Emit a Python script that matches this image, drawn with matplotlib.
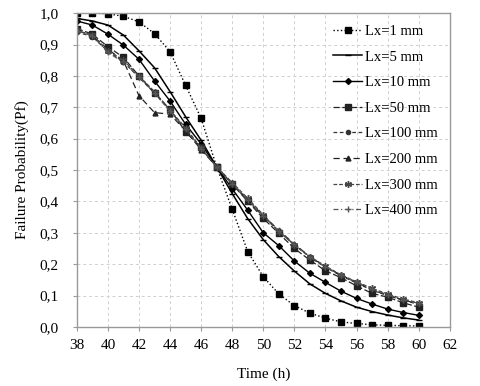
import matplotlib
matplotlib.use("Agg")
import matplotlib.pyplot as plt
from matplotlib.ticker import FuncFormatter, MultipleLocator

plt.rcParams['font.family'] = ['Liberation Serif', 'DejaVu Serif']

# time (h)
hours = list(range(38, 61))

# failure probability for each Lx
lx1 = [1.0, 1.0, 0.998, 0.99, 0.972, 0.935, 0.877, 0.77, 0.665, 0.51, 0.375, 0.24,
       0.16, 0.105, 0.068, 0.044, 0.028, 0.016, 0.011, 0.007, 0.005, 0.004, 0.003]
lx5 = [0.983, 0.975, 0.962, 0.93, 0.88, 0.826, 0.75, 0.67, 0.595, 0.51, 0.425, 0.345,
       0.278, 0.224, 0.178, 0.137, 0.107, 0.083, 0.063, 0.049, 0.038, 0.029, 0.022]
lx10 = [0.975, 0.962, 0.933, 0.898, 0.853, 0.784, 0.72, 0.646, 0.583, 0.51, 0.44, 0.372,
        0.30, 0.259, 0.21, 0.171, 0.142, 0.114, 0.091, 0.073, 0.057, 0.046, 0.037]
lx50 = [0.951, 0.933, 0.893, 0.859, 0.80, 0.746, 0.693, 0.622, 0.572, 0.51, 0.455, 0.40,
        0.346, 0.298, 0.25, 0.213, 0.179, 0.157, 0.131, 0.107, 0.095, 0.077, 0.063]
lx100 = [0.94, 0.925, 0.878, 0.845, 0.795, 0.745, 0.69, 0.63, 0.568, 0.51, 0.455, 0.403,
         0.352, 0.305, 0.262, 0.222, 0.19, 0.163, 0.14, 0.117, 0.1, 0.085, 0.072]
lx200 = [0.945, 0.928, 0.885, 0.848, 0.737, 0.683, 0.678, 0.625, 0.565, 0.51, 0.458, 0.405,
         0.355, 0.308, 0.264, 0.224, 0.192, 0.165, 0.142, 0.118, 0.101, 0.086, 0.073]
lx300 = [0.945, 0.93, 0.88, 0.85, 0.80, 0.75, 0.69, 0.635, 0.57, 0.51, 0.46, 0.41,
         0.357, 0.304, 0.261, 0.224, 0.194, 0.166, 0.144, 0.123, 0.105, 0.089, 0.077]
lx400 = [0.942, 0.928, 0.875, 0.843, 0.797, 0.745, 0.688, 0.63, 0.568, 0.51, 0.457, 0.405,
         0.355, 0.305, 0.263, 0.223, 0.192, 0.165, 0.142, 0.12, 0.103, 0.087, 0.075]

labels = ['Lx=1 mm', 'Lx=5 mm', 'Lx=10 mm', 'Lx=50 mm',
          'Lx=100 mm', 'Lx=200 mm', 'Lx=300 mm', 'Lx=400 mm']

fig = plt.figure(figsize=(4.8, 3.86), dpi=100)
ax = fig.add_axes([0.160, 0.153, 0.777, 0.813])

ax.plot(hours, lx1, color='black', ls=':', lw=1.0, marker='s', ms=5, label=labels[0])
ax.plot(hours, lx5, color='black', ls='-', lw=1.1, marker='_', ms=4, label=labels[1])
ax.plot(hours, lx10, color='black', ls='-', lw=1.0, marker='D', ms=3, label=labels[2])
ax.plot(hours, lx50, color='#222222', ls=(0, (5, 2)), lw=0.9, marker='s', ms=5, label=labels[3])
ax.plot(hours, lx100, color='#333333', ls=(0, (3, 2)), lw=0.9, marker='o', ms=3, label=labels[4])
ax.plot(hours, lx200, color='#222222', ls=(0, (5, 3)), lw=0.9, marker='^', ms=3.5, label=labels[5])
ax.plot(hours, lx300, color='#444444', ls=(0, (3, 1.5)), lw=0.9, marker=(6, 2, 0), ms=5, label=labels[6])
ax.plot(hours, lx400, color='#555555', ls=(0, (4, 2, 1, 2)), lw=0.9, marker='+', ms=5, label=labels[7])

ax.set_xlim(38, 62)
ax.set_ylim(0, 1.0)
ax.xaxis.set_major_locator(MultipleLocator(2))
ax.yaxis.set_major_locator(MultipleLocator(0.1))
ax.yaxis.set_major_formatter(FuncFormatter(lambda v, p: f"{v:.1f}".replace('.', ',')))

ax.grid(True, color='#cfcfcf', ls=(0, (3, 3)), lw=0.7)
ax.set_axisbelow(True)
for s in ax.spines.values():
    s.set_color('#9a9a9a')
    s.set_linewidth(1.0)
ax.tick_params(colors='#9a9a9a', labelcolor='black', labelsize=11, length=3)
ax.tick_params(axis='y', pad=10)
ax.tick_params(axis='x', pad=6)

ax.set_xlabel('Time (h)', fontsize=11, labelpad=11)
ax.set_ylabel('Failure Probability(Pf)', fontsize=11, labelpad=8)

ax.legend(loc='upper right', frameon=False, fontsize=10.5, labelspacing=0.85,
          handlelength=2.0, handletextpad=0.2, borderaxespad=0.4)

fig.savefig('out.png', dpi=100)
